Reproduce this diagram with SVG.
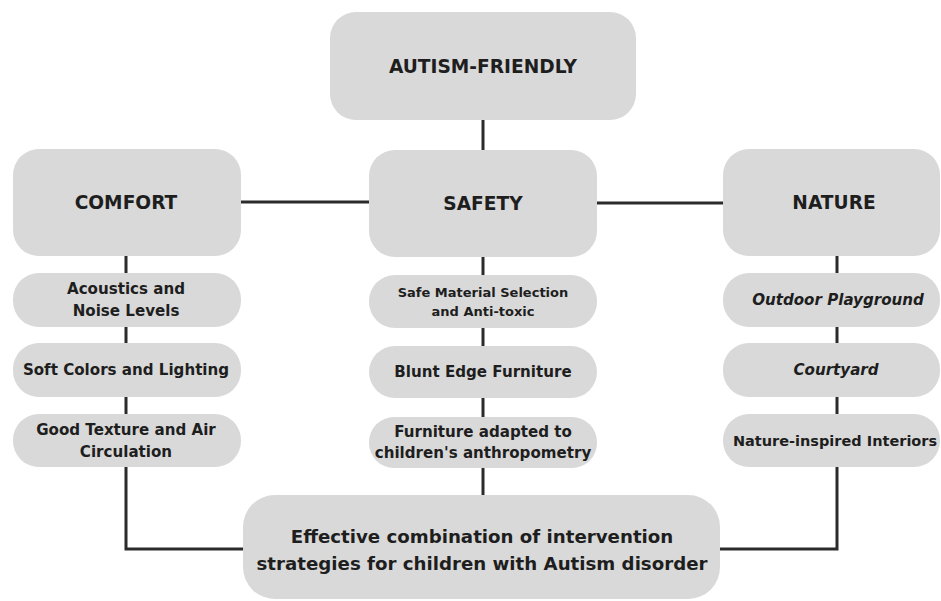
<svg xmlns="http://www.w3.org/2000/svg" width="941" height="601" viewBox="0 0 941 601">
<style>
.box{fill:#d9d9d9}
.ln{stroke:#2b2b2b;stroke-width:3;fill:none}
text{font-family:"DejaVu Sans","Liberation Sans",sans-serif;font-weight:bold;fill:#1e1e1e;text-anchor:middle}
.h{font-size:18.6px}
.s{font-size:15.1px}
.xs{font-size:13px}
.i{font-style:italic}
.b{font-size:18.2px}
</style>
<rect width="941" height="601" fill="#ffffff"/>
<g id="connectors">
<line class="ln" x1="483" y1="120" x2="483" y2="150"/>
<line class="ln" x1="241" y1="202" x2="369" y2="202"/>
<line class="ln" x1="597" y1="203" x2="723" y2="203"/>
<line class="ln" x1="126" y1="256" x2="126" y2="273"/>
<line class="ln" x1="126" y1="327" x2="126" y2="343"/>
<line class="ln" x1="126" y1="397" x2="126" y2="414"/>
<polyline class="ln" points="126,467 126,549 243,549"/>
<line class="ln" x1="483" y1="257" x2="483" y2="275"/>
<line class="ln" x1="483" y1="328" x2="483" y2="346"/>
<line class="ln" x1="483" y1="398" x2="483" y2="417"/>
<line class="ln" x1="483" y1="468" x2="483" y2="495"/>
<line class="ln" x1="837" y1="256" x2="837" y2="273"/>
<line class="ln" x1="837" y1="327" x2="837" y2="343"/>
<line class="ln" x1="837" y1="397" x2="837" y2="414"/>
<polyline class="ln" points="837,467 837,549 720,549"/>
</g>
<g id="autism-friendly"><rect class="box" x="330" y="12" width="306" height="108" rx="26"/><text class="h" x="483" y="73">AUTISM-FRIENDLY</text></g>
<g id="comfort"><rect class="box" x="13" y="149" width="228" height="107" rx="26"/><text class="h" x="126" y="209">COMFORT</text></g>
<g id="safety"><rect class="box" x="369" y="150" width="228" height="107" rx="26"/><text class="h" x="483" y="210">SAFETY</text></g>
<g id="nature"><rect class="box" x="723" y="149" width="217" height="107" rx="26"/><text class="h" x="834" y="209">NATURE</text></g>
<g id="acoustics"><rect class="box" x="13" y="273" width="228" height="54" rx="26"/><text class="s" x="126" y="294">Acoustics and</text><text class="s" x="126" y="316">Noise Levels</text></g>
<g id="soft-colors"><rect class="box" x="13" y="343" width="228" height="54" rx="26"/><text class="s" x="126" y="375">Soft Colors and Lighting</text></g>
<g id="good-texture"><rect class="box" x="13" y="414" width="228" height="53" rx="26"/><text class="s" x="126" y="435">Good Texture and Air</text><text class="s" x="126" y="457">Circulation</text></g>
<g id="safe-material"><rect class="box" x="369" y="275" width="228" height="53" rx="26"/><text class="xs" x="483" y="297">Safe Material Selection</text><text class="xs" x="483" y="316">and Anti-toxic</text></g>
<g id="blunt-edge"><rect class="box" x="369" y="346" width="228" height="52" rx="26"/><text class="s" x="483" y="377">Blunt Edge Furniture</text></g>
<g id="furniture-adapted"><rect class="box" x="369" y="417" width="228" height="51" rx="25"/><text class="s" x="483" y="437">Furniture adapted to</text><text class="s" x="483" y="458">children's anthropometry</text></g>
<g id="outdoor-playground"><rect class="box" x="723" y="273" width="217" height="54" rx="26"/><text class="s i" x="838" y="305">Outdoor Playground</text></g>
<g id="courtyard"><rect class="box" x="723" y="343" width="217" height="54" rx="26"/><text class="s i" x="836" y="375">Courtyard</text></g>
<g id="nature-inspired"><rect class="box" x="723" y="414" width="217" height="53" rx="26"/><text class="s" x="835" y="446" style="font-size:14.5px">Nature-inspired Interiors</text></g>
<g id="effective-combination"><rect class="box" x="243" y="495" width="477" height="104" rx="32"/><text class="b" x="482" y="543">Effective combination of intervention</text><text class="b" x="482" y="570">strategies for children with Autism disorder</text></g>
</svg>
